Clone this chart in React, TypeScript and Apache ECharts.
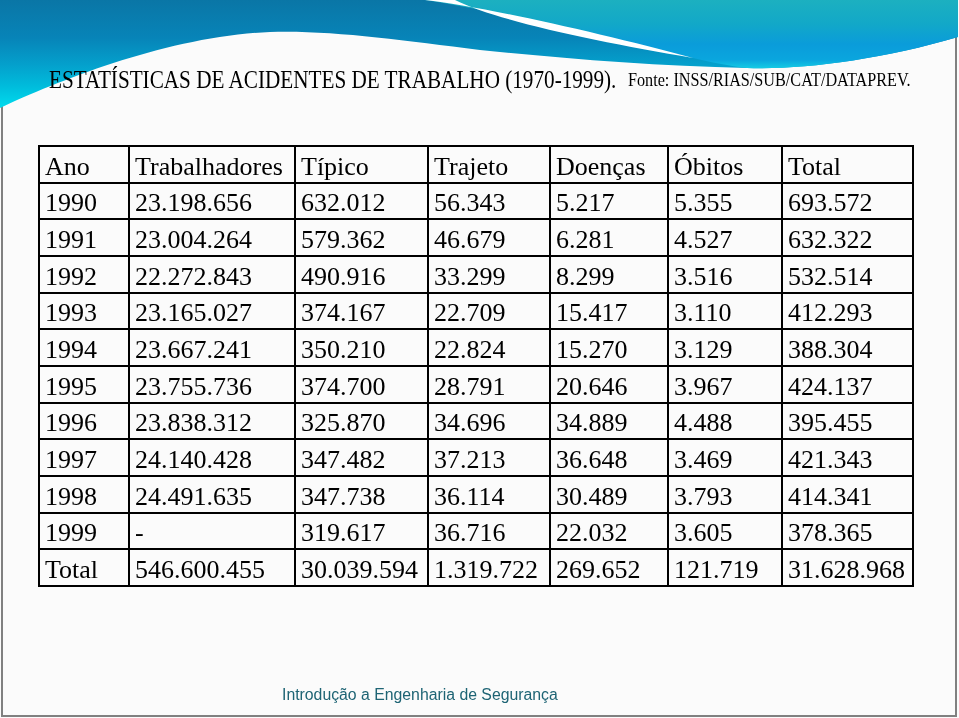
import React, { useEffect, useRef } from "react";
import * as echarts from "echarts";

const titleText = "ESTATÍSTICAS DE ACIDENTES DE TRABALHO (1970-1999).";
const sourceText = "Fonte: INSS/RIAS/SUB/CAT/DATAPREV.";
const footerText = "Introdução a Engenharia de Segurança";

const headers = ["Ano", "Trabalhadores", "Típico", "Trajeto", "Doenças", "Óbitos", "Total"];
const years = ["1990", "1991", "1992", "1993", "1994", "1995", "1996", "1997", "1998", "1999"];
const trabalhadores = [23198656, 23004264, 22272843, 23165027, 23667241, 23755736, 23838312, 24140428, 24491635, null];
const tipico = [632012, 579362, 490916, 374167, 350210, 374700, 325870, 347482, 347738, 319617];
const trajeto = [56343, 46679, 33299, 22709, 22824, 28791, 34696, 37213, 36114, 36716];
const doencas = [5217, 6281, 8299, 15417, 15270, 20646, 34889, 36648, 30489, 22032];
const obitos = [5355, 4527, 3516, 3110, 3129, 3967, 4488, 3469, 3793, 3605];
const totais = [693572, 632322, 532514, 412293, 388304, 424137, 395455, 421343, 414341, 378365];
const totalLabel = "Total";
const totalRow = [546600455, 30039594, 1319722, 269652, 121719, 31628968];

const fmt = (n: number | null) =>
  n === null ? "-" : String(n).replace(/\B(?=(\d{3})+(?!\d))/g, ".");

const BAND_D =
  "M0,0 L958,0 L958,37 C880,60 800,70 747,68 C650,66 560,58 480,50 C400,40 330,30 270,32 C170,36 60,80 0,108 Z";
const TEAL_D =
  "M425,0 L958,0 L958,37 C880,60 800,70 747,68 C730,66 710,62 693,58 C600,35 480,8 425,0 Z";
const STREAK_D = "M425,0 C480,6 600,33 693,58 C600,42 500,22 455,0 Z";

let registered = false;
function registerShapes() {
  if (registered) return;
  registered = true;
  echarts.graphic.registerShape("bandShape", echarts.graphic.extendPath(BAND_D, {}) as any);
  echarts.graphic.registerShape("tealShape", echarts.graphic.extendPath(TEAL_D, {}) as any);
  echarts.graphic.registerShape("streakShape", echarts.graphic.extendPath(STREAK_D, {}) as any);
}

export default function App() {
  const ref = useRef<HTMLDivElement>(null);
  useEffect(() => {
    if (!ref.current) return;
    registerShapes();
    const chart = echarts.init(ref.current, null, { renderer: "svg" });

    const rows: string[][] = [headers];
    years.forEach((y, i) => {
      rows.push([
        y,
        fmt(trabalhadores[i]),
        fmt(tipico[i]),
        fmt(trajeto[i]),
        fmt(doencas[i]),
        fmt(obitos[i]),
        fmt(totais[i]),
      ]);
    });
    rows.push([totalLabel, ...totalRow.map((v) => fmt(v))]);

    const colX = [39, 129, 295, 428, 550, 668, 782, 913];
    const top = 146;
    const bottom = 586;
    const rowH = (bottom - top) / rows.length;
    const serif = "'Liberation Serif', 'Times New Roman', serif";

    const elements: any[] = [];
    elements.push({
      type: "rect",
      shape: { x: 0, y: 0, width: 959, height: 718 },
      style: { fill: "#fbfbfb" },
      silent: true,
    });
    // frame (drawn under the band)
    elements.push({
      type: "rect",
      shape: { x: 2, y: -4, width: 954, height: 720 },
      style: { fill: "none", stroke: "#808080", lineWidth: 2 },
      silent: true,
    });
    elements.push({
      type: "bandShape",
      x: 0,
      y: 0,
      style: {
        fill: new echarts.graphic.LinearGradient(0, 0, 0, 1, [
          { offset: 0, color: "#0a76a6" },
          { offset: 0.35, color: "#0784b8" },
          { offset: 0.6, color: "#04a0cc" },
          { offset: 0.8, color: "#00bcdc" },
          { offset: 1, color: "#00dcee" },
        ]),
      },
      silent: true,
    });
    elements.push({
      type: "tealShape",
      x: 0,
      y: 0,
      style: {
        fill: new echarts.graphic.LinearGradient(0, 0, 0, 1, [
          { offset: 0, color: "#1cb0c0" },
          { offset: 0.35, color: "#12a8c8" },
          { offset: 0.65, color: "#0a9cda" },
          { offset: 0.88, color: "#0aa6de" },
          { offset: 1, color: "#14cce4" },
        ]),
      },
      silent: true,
    });
    elements.push({
      type: "streakShape",
      x: 0,
      y: 0,
      style: { fill: "#ffffff" },
      silent: true,
    });

    // title
    elements.push({
      type: "text",
      x: 49,
      y: 79,
      scaleX: 0.848,
      style: {
        text: titleText,
        x: 0,
        y: 0,
        fill: "#000",
        fontSize: 25,
        fontFamily: serif,
        verticalAlign: "middle",
        align: "left",
      },
    });
    elements.push({
      type: "text",
      x: 628,
      y: 80,
      scaleX: 0.9,
      style: {
        text: sourceText,
        x: 0,
        y: 0,
        fill: "#000",
        fontSize: 18,
        fontFamily: serif,
        verticalAlign: "middle",
        align: "left",
      },
    });

    // table lines
    for (let r = 0; r <= rows.length; r++) {
      const y = Math.round(top + r * rowH);
      elements.push({
        type: "line",
        shape: { x1: colX[0] - 1, y1: y, x2: colX[colX.length - 1] + 1, y2: y },
        style: { stroke: "#000", lineWidth: 2 },
        silent: true,
      });
    }
    colX.forEach((x) => {
      elements.push({
        type: "line",
        shape: { x1: x, y1: top, x2: x, y2: bottom },
        style: { stroke: "#000", lineWidth: 2 },
        silent: true,
      });
    });

    // cell texts
    rows.forEach((row, r) => {
      const yMid = top + r * rowH + 20;
      row.forEach((cell, c) => {
        elements.push({
          type: "text",
          x: colX[c] + 6,
          y: yMid,
          style: {
            text: cell,
            x: 0,
            y: 0,
            fill: "#000",
            fontSize: 26,
            fontFamily: serif,
            verticalAlign: "middle",
            align: "left",
          },
        });
      });
    });

    // footer
    elements.push({
      type: "text",
      x: 282,
      y: 694,
      style: {
        text: footerText,
        x: 0,
        y: 0,
        fill: "#1e6474",
        fontSize: 15.8,
        fontFamily: "'Liberation Sans', Arial, sans-serif",
        verticalAlign: "middle",
        align: "left",
      },
    });

    chart.setOption({
      animation: false,
      graphic: { elements },
    });
    return () => chart.dispose();
  }, []);

  return (
    <div
      ref={ref}
      style={{ position: "fixed", left: 0, top: 0, width: 959, height: 718 }}
    />
  );
}
